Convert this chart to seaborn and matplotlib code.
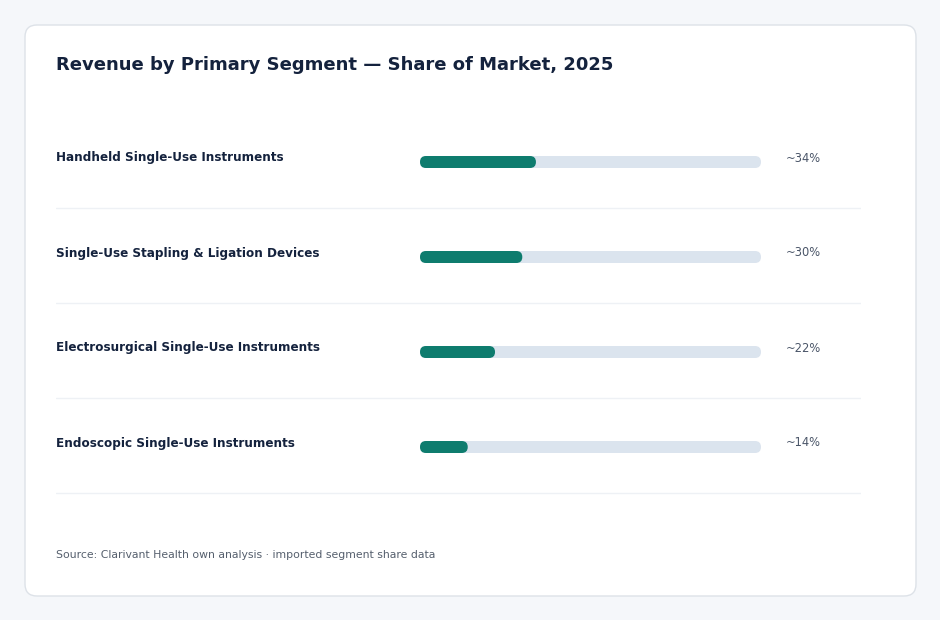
import numpy as np
import matplotlib
matplotlib.use("Agg")
import matplotlib.pyplot as plt
from matplotlib.patches import FancyBboxPatch
import seaborn as sns

SEGMENTS = [
    "Handheld Single-Use Instruments",
    "Single-Use Stapling & Ligation Devices",
    "Electrosurgical Single-Use Instruments",
    "Endoscopic Single-Use Instruments",
]
SHARES = [34, 30, 22, 14]
VALUE_LABELS = ["~34%", "~30%", "~22%", "~14%"]
TRACK_MAX = [100, 100, 100, 100]

TITLE = "Revenue by Primary Segment \u2014 Share of Market, 2025"
SOURCE = "Source: Clarivant Health own analysis \u00b7 imported segment share data"

BG = "#f5f7fa"
CARD_EDGE = "#dde2e8"
TEAL = "#0e7c6e"
TRACK = "#dbe4ee"
NAVY = "#14223d"
GREY = "#4a5568"
SEP = "#eef1f5"

W, H = 940, 620
sns.set_style("white")
plt.rcParams["font.family"] = ["DejaVu Sans"]

fig = plt.figure(figsize=(W / 100, H / 100), dpi=100)
fig.patch.set_facecolor(BG)

# card (inches)
card = FancyBboxPatch((25 / 100, 24 / 100), 891 / 100, 571 / 100,
                      boxstyle="round,pad=0,rounding_size=0.12",
                      transform=fig.dpi_scale_trans, facecolor="white",
                      edgecolor=CARD_EDGE, linewidth=1, zorder=-10)
fig.patches.append(card)

# axes spans content width; bar scale 0..100 maps to px 420..761
ax_l, ax_r = 56, 861
row_px = 95
top_px = 162 - row_px / 2
ax = fig.add_axes([ax_l / W, 1 - (top_px + 4 * row_px) / H,
                   (ax_r - ax_l) / W, 4 * row_px / H])
ax.set_facecolor("none")

px_per_unit = (761 - 420) / 100
xmin = -(420 - ax_l) / px_per_unit
xmax = (ax_r - 420) / px_per_unit
bar_h = 12 / row_px

sns.barplot(x=TRACK_MAX, y=SEGMENTS, color=TRACK, width=bar_h, orient="h",
            saturation=1, ax=ax)
sns.barplot(x=SHARES, y=SEGMENTS, color=TEAL, width=bar_h, orient="h",
            saturation=1, ax=ax)

ax.set_xlim(xmin, xmax)
ax.set_ylim(3.5, -0.5)

# swap rectangles for pill shapes
r_x = 6 / px_per_unit
aspect = (1 / row_px) / (1 / px_per_unit)
rects = list(ax.patches)
for p in rects:
    x0, y0 = p.get_x(), p.get_y()
    w, h = p.get_width(), p.get_height()
    fc = p.get_facecolor()
    p.remove()
    ax.add_patch(FancyBboxPatch((x0, y0), w, h,
                                boxstyle=f"round,pad=0,rounding_size={r_x}",
                                mutation_aspect=aspect, facecolor=fc,
                                edgecolor="none", linewidth=0))

for i, (seg, lab) in enumerate(zip(SEGMENTS, VALUE_LABELS)):
    ax.text(xmin, i - 4 / row_px, seg, ha="left", va="center",
            fontsize=8.65, fontweight="bold", color=NAVY)
    ax.text((786 - 420) / px_per_unit, i - 4 / row_px, lab, ha="left",
            va="center", fontsize=8.3, color=GREY)
    ax.axhline(i + 0.485, color=SEP, linewidth=1, zorder=0)

ax.set_xticks([])
ax.set_yticks([])
ax.set_xlabel("")
ax.set_ylabel("")
for s in ax.spines.values():
    s.set_visible(False)

fig.text(56 / W, 1 - 65 / H, TITLE, ha="left", va="center", fontsize=13,
         fontweight="bold", color=NAVY)
fig.text(56 / W, 1 - 555 / H, SOURCE, ha="left", va="center", fontsize=7.85,
         color="#555f6d")

fig.savefig("out.png", dpi=100, facecolor=BG)
